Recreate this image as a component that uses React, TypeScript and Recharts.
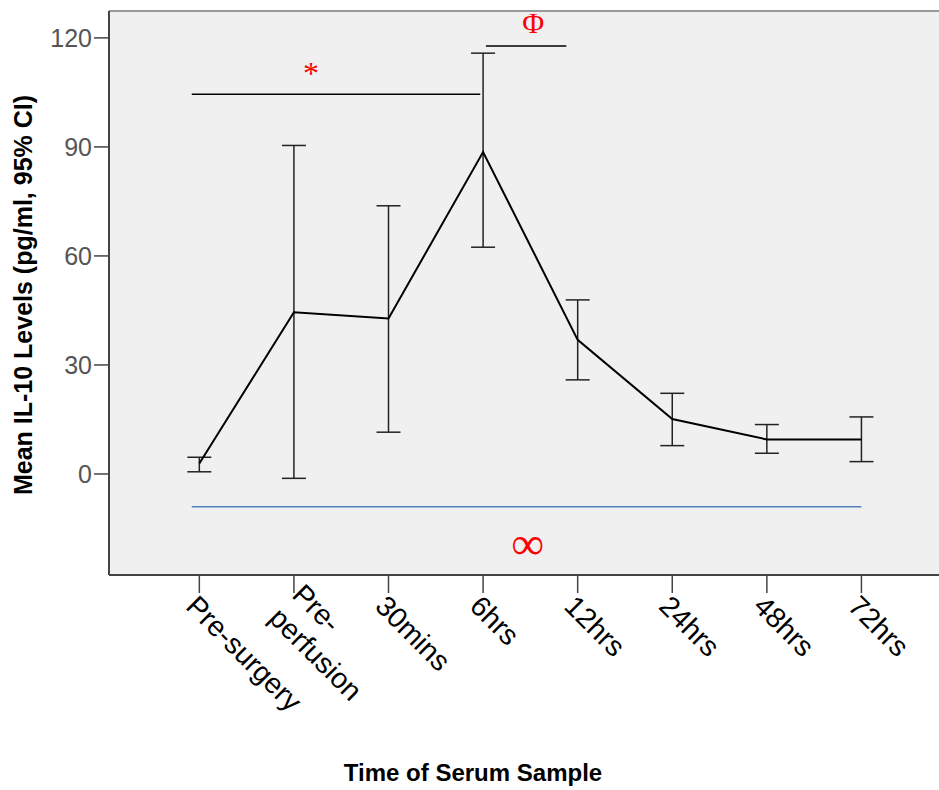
import React from 'react'
import {
  LineChart,
  Line,
  XAxis,
  YAxis,
  CartesianGrid,
  ErrorBar,
  ReferenceLine,
  ReferenceDot,
  Label,
} from 'recharts'

// time points of serum sampling
const timePoints = ['Pre-surgery', 'Pre-\nperfusion', '30mins', '6hrs', '12hrs', '24hrs', '48hrs', '72hrs']
// mean IL-10 (pg/ml) with 95% CI bounds
const meanIL10 = [2.9, 44.5, 42.8, 88.6, 36.9, 15.1, 9.5, 9.5]
const upperCI = [4.6, 90.4, 73.8, 115.8, 47.9, 22.2, 13.6, 15.7]
const lowerCI = [0.6, -1.2, 11.5, 62.4, 25.9, 7.8, 5.7, 3.4]
const yTicks = [0, 30, 60, 90, 120]

const data = timePoints.map((t, i) => ({
  idx: i,
  mean: meanIL10[i],
  ci: [meanIL10[i] - lowerCI[i], upperCI[i] - meanIL10[i]],
}))

const sans = '"Liberation Sans", Arial, sans-serif'
const serif = '"Liberation Serif", "Times New Roman", serif'

const XTick = ({ x, y, payload }: any) => {
  const lines = timePoints[payload.value].split('\n')
  return (
    <g transform={`translate(${x},${y})`}>
      <text transform="rotate(45)" fontSize={28.5} fill="#000" fontFamily={sans}>
        {lines.map((l, i) => (
          <tspan key={i} x={0} y={21 + (i - (lines.length - 1) / 2) * 33}>
            {l}
          </tspan>
        ))}
      </text>
    </g>
  )
}

export default function App() {
  return (
    <div style={{ position: 'absolute', left: 0, top: 0, width: 939, height: 790, background: '#fff' }}>
      <LineChart width={939} height={790} data={data} margin={{ top: 11, right: 0, bottom: 0, left: 0 }}>
        <CartesianGrid fill="#f0f0f0" horizontal={false} vertical={false} />
        <XAxis
          type="number"
          dataKey="idx"
          domain={[-0.955, 7.82]}
          allowDataOverflow
          ticks={[0, 1, 2, 3, 4, 5, 6, 7]}
          interval={0}
          height={215}
          tickSize={18}
          tickMargin={0}
          tick={<XTick />}
          axisLine={{ stroke: '#444', strokeWidth: 2 }}
          tickLine={{ stroke: '#444', strokeWidth: 1.5 }}
        >
          <Label
            content={() => (
              <text x={473} y={781} textAnchor="middle" fontSize={24} fontWeight="bold" fill="#000" fontFamily={sans}>
                Time of Serum Sample
              </text>
            )}
          />
        </XAxis>
        <YAxis
          type="number"
          domain={[-27.8, 127.4]}
          allowDataOverflow
          ticks={yTicks}
          width={109}
          tickSize={15}
          tickMargin={2}
          tick={{ fill: '#555', fontSize: 25, fontFamily: sans }}
          axisLine={{ stroke: '#444', strokeWidth: 2 }}
          tickLine={{ stroke: '#444', strokeWidth: 1.5 }}
        >
          <Label
            content={() => (
              <text
                transform="translate(32,295) rotate(-90)"
                textAnchor="middle"
                fontSize={25}
                fontWeight="bold"
                fill="#000"
                fontFamily={sans}
              >
                Mean IL-10 Levels (pg/ml, 95% CI)
              </text>
            )}
          />
        </YAxis>
        <ReferenceLine y={127.4} stroke="#999" strokeWidth={2} />
        <ReferenceLine
          segment={[{ x: -0.08, y: -9 }, { x: 7, y: -9 }]}
          stroke="#4f81bd"
          strokeWidth={1.5}
        />
        <ReferenceLine
          segment={[{ x: -0.08, y: 104.5 }, { x: 2.97, y: 104.5 }]}
          stroke="#000"
          strokeWidth={1.5}
        />
        <ReferenceLine
          segment={[{ x: 3.03, y: 117.8 }, { x: 3.88, y: 117.8 }]}
          stroke="#000"
          strokeWidth={1.5}
        />
        <ReferenceDot x={1.18} y={110.5} r={0} label={{ value: '*', position: 'center', fill: '#ff0000', fontSize: 32, fontFamily: serif }} />
        <ReferenceDot x={3.53} y={124.4} r={0} label={{ value: 'Φ', position: 'center', fill: '#ff0000', fontSize: 30, fontFamily: serif }} />
        <ReferenceDot x={3.47} y={-19} r={0} label={{ value: '∞', position: 'center', fill: '#ff0000', fontSize: 46, fontFamily: serif }} />
        <Line
          dataKey="mean"
          stroke="#000"
          strokeWidth={2}
          dot={false}
          isAnimationActive={false}
        >
          <ErrorBar dataKey="ci" direction="y" width={12} stroke="#222" strokeWidth={1.5} isAnimationActive={false} />
        </Line>
      </LineChart>
    </div>
  )
}
